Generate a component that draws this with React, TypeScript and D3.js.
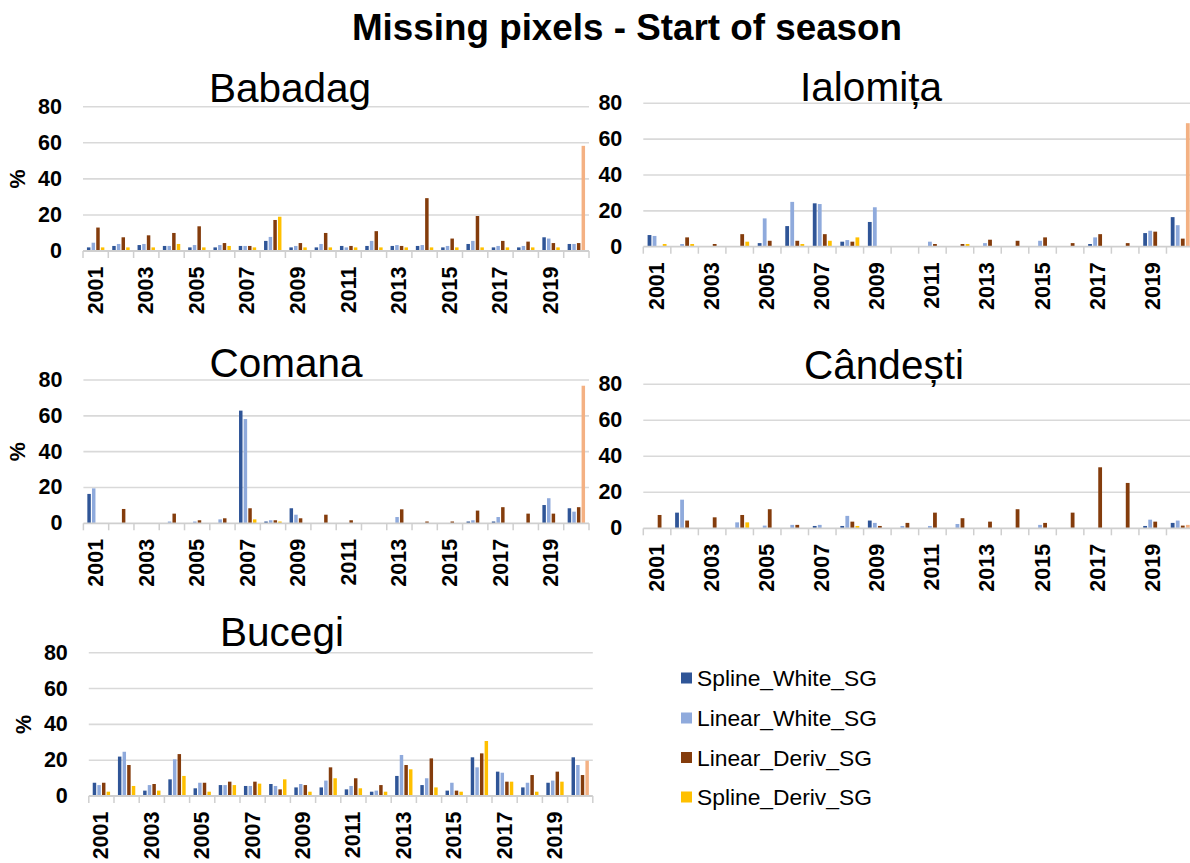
import React from 'react';
import * as d3 from 'd3';

const YEARS = ['2001','2002','2003','2004','2005','2006','2007','2008','2009','2010','2011','2012','2013','2014','2015','2016','2017','2018','2019','2020'];
const SERIES = ['Spline_White_SG', 'Linear_White_SG', 'Linear_Deriv_SG', 'Spline_Deriv_SG'];
const Y_TICKS = [0, 20, 40, 60, 80];
const HIGHLIGHT_YEAR = '2020';

const babadagSplineWhite = [2, 2.8, 3.3, 2.8, 2, 2, 2.8, 5.6, 2, 2, 2.8, 2.8, 2.8, 2.8, 2, 3.9, 2, 2, 7.6, 3.9];
const babadagLinearWhite = [4.6, 3.9, 3.9, 2.8, 3.3, 3.3, 2.8, 7.8, 2.8, 3.9, 2, 5.6, 3.3, 3.3, 2.8, 5.6, 2.8, 2.8, 6.9, 3.9];
const babadagLinearDeriv = [13, 7.6, 8.7, 10, 13.7, 4.4, 2.8, 17.2, 4.4, 10, 2.8, 11, 2.8, 29.3, 6.9, 19.4, 5.6, 5.2, 4.4, 4.4];
const babadagSplineDeriv = [2, 2, 2, 3.9, 2, 2.8, 2, 19, 2, 2, 2, 2, 2, 2, 2, 2, 2, 2, 2, 58.3];

const ialomitaSplineWhite = [6.5, 0, 0, 0, 2, 11.5, 24.2, 2.8, 13.8, 0, 0, 0, 0, 0, 0, 0, 1.5, 0, 7.6, 16.5];
const ialomitaLinearWhite = [6, 1.5, 0, 0, 15.8, 25, 23.8, 3.7, 22, 0, 2.8, 0, 2, 0, 3.3, 0, 5.2, 0, 8.9, 12];
const ialomitaLinearDeriv = [0, 5.2, 1.5, 7, 3.3, 3.3, 7, 2.8, 0, 0, 1.5, 1.5, 3.9, 3.3, 5.2, 2, 7, 2, 8.4, 4.5];
const ialomitaSplineDeriv = [1.5, 1.5, 0, 2.8, 0, 1.5, 3.3, 5.2, 0, 0, 0, 1.5, 0, 0, 0, 0, 0, 0, 0, 68.9];

const comanaSplineWhite = [16.4, 0, 0, 0, 0, 0, 62.9, 1, 8.4, 0, 0, 0, 0, 0, 0, 1, 1, 0, 10.2, 8.4];
const comanaLinearWhite = [19.5, 0, 0, 1, 1, 2.2, 58.2, 1.7, 4.8, 0, 0, 0, 3.5, 0, 0, 1.7, 3.5, 0, 14, 6.5];
const comanaLinearDeriv = [0, 8, 0, 5.4, 1.7, 2.8, 8.4, 1.7, 2.8, 4.8, 1.7, 0, 7.8, 1, 1, 7.1, 9, 5.4, 5.4, 9];
const comanaSplineDeriv = [0, 0, 0, 0, 0, 0, 2.2, 1, 0, 0, 0, 0, 0, 0, 0, 0, 0, 0, 0, 76.8];

const candestiSplineWhite = [0, 8.7, 0, 0, 0, 0, 1.3, 1.3, 4.3, 0, 0, 0, 0, 0, 0, 0, 0, 0, 1.3, 3];
const candestiLinearWhite = [0, 15.9, 0, 3.3, 1.5, 1.9, 1.9, 6.9, 3, 1.3, 1.3, 2.4, 0, 0, 1.9, 0, 0, 0, 4.8, 4.3];
const candestiLinearDeriv = [7.4, 4.3, 6.1, 7.4, 10.6, 1.9, 0, 3.7, 1.3, 3, 8.7, 5.6, 3.7, 10.6, 3, 8.7, 33.9, 25.2, 3.7, 1.5];
const candestiSplineDeriv = [0, 0, 0, 3.3, 0, 0, 0, 1.3, 0, 0, 0, 0, 0, 0, 0, 0, 0, 0, 0, 1.9];

const bucegiSplineWhite = [7.4, 22, 3, 9.3, 4.3, 6.1, 5.6, 6.7, 4.8, 4.8, 3.7, 2.4, 11.2, 6.1, 3, 21.6, 13.6, 4.8, 7.4, 21.6];
const bucegiLinearWhite = [6.1, 24.7, 6.1, 20.5, 7.4, 6.1, 5.6, 5.6, 6.7, 8.6, 5.6, 3, 22.9, 9.9, 7.4, 16, 13, 7.4, 8.6, 17.3];
const bucegiLinearDeriv = [7.4, 17.3, 6.7, 23.4, 7.4, 8, 8, 3.7, 6.1, 16, 9.9, 6.1, 17.3, 21, 3, 23.8, 8, 11.7, 13.6, 11.7];
const bucegiSplineDeriv = [2.4, 5.6, 3, 11.2, 2.4, 6.1, 6.9, 9.3, 2.4, 9.9, 4.3, 2.4, 14.9, 4.8, 2.4, 30.7, 8, 2.4, 8, 19.7];

const COLORS = ['#2F5597', '#8FAADC', '#843C0C', '#FFC000'];
const HIGHLIGHT_COLOR = '#F4B183';
const FONT = '"Liberation Sans", Arial, Helvetica, sans-serif';

const PANELS = [
  { name: 'Babadag', series: [babadagSplineWhite, babadagLinearWhite, babadagLinearDeriv, babadagSplineDeriv], left: 83, right: 589, top: 106.7, bottom: 251, titleX: 290, titleY: 102, pct: true },
  { name: 'Ialomița', series: [ialomitaSplineWhite, ialomitaLinearWhite, ialomitaLinearDeriv, ialomitaSplineDeriv], left: 643.3, right: 1194, top: 103.3, bottom: 246.7, titleX: 871, titleY: 101, pct: false },
  { name: 'Comana', series: [comanaSplineWhite, comanaLinearWhite, comanaLinearDeriv, comanaSplineDeriv], left: 83.4, right: 589, top: 380, bottom: 523.3, titleX: 286, titleY: 377, pct: true },
  { name: 'Cândești', series: [candestiSplineWhite, candestiLinearWhite, candestiLinearDeriv, candestiSplineDeriv], left: 643.3, right: 1194, top: 384.3, bottom: 528.3, titleX: 884, titleY: 379, pct: false },
  { name: 'Bucegi', series: [bucegiSplineWhite, bucegiLinearWhite, bucegiLinearDeriv, bucegiSplineDeriv], left: 88.8, right: 592.8, top: 652.7, bottom: 796, titleX: 282, titleY: 646, pct: true },
];

function Panel({ p }: { p: typeof PANELS[number] }) {
  const x0 = d3.scaleBand<string>().domain(YEARS).range([p.left, p.right]).paddingInner(0).paddingOuter(0);
  const x1 = d3.scaleBand<string>().domain(SERIES).range([0, x0.bandwidth()]).paddingInner(0.25).paddingOuter(0.85);
  const y = d3.scaleLinear().domain([0, 80]).range([p.bottom, p.top]);
  const bw = x0.bandwidth();
  return (
    <g>
      {Y_TICKS.filter(t => t > 0).map(t => (
        <line key={t} x1={p.left} x2={p.right} y1={y(t)} y2={y(t)} stroke="#d9d9d9" strokeWidth={1.6} />
      ))}
      {Y_TICKS.map(t => (
        <text key={'l' + t} x={p.left - 21} y={y(t)} textAnchor="end" dominantBaseline="central" fontFamily={FONT} fontWeight="bold" fontSize={21.5} fill="#000">{t}</text>
      ))}
      {YEARS.map((yr, i) => (
        <g key={yr} transform={`translate(${x0(yr)},0)`}>
          {SERIES.map((s, si) => {
            const v = p.series[si][i];
            if (!v) return null;
            const color = si === 3 && yr === HIGHLIGHT_YEAR ? HIGHLIGHT_COLOR : COLORS[si];
            return <rect key={s} x={x1(s)} width={x1.bandwidth()} y={y(v)} height={y(0) - y(v)} fill={color} />;
          })}
        </g>
      ))}
      <line x1={p.left} x2={p.right} y1={y(0)} y2={y(0)} stroke="#cfcfcf" strokeWidth={1.8} />
      {YEARS.map(yr => (
        <line key={'t' + yr} x1={x0(yr)} x2={x0(yr)} y1={y(0)} y2={y(0) + 7} stroke="#cfcfcf" strokeWidth={1.5} />
      ))}
      <line x1={p.right} x2={p.right} y1={y(0)} y2={y(0) + 7} stroke="#cfcfcf" strokeWidth={1.5} />
      {YEARS.filter((_, i) => i % 2 === 0).map(yr => {
        const cx = (x0(yr) as number) + bw / 2;
        const cy = y(0) + 15.5;
        return (
          <text key={'x' + yr} x={cx} y={cy} transform={`rotate(-90 ${cx} ${cy})`} textAnchor="end" dominantBaseline="central" fontFamily={FONT} fontWeight="bold" fontSize={21.5} fill="#000">{yr}</text>
        );
      })}
      <text x={p.titleX} y={p.titleY} textAnchor="middle" fontFamily={FONT} fontSize={40.5} fill="#000">{p.name}</text>
      {p.pct && (
        <text x={p.left - 65} y={(p.top + p.bottom) / 2} transform={`rotate(-90 ${p.left - 65} ${(p.top + p.bottom) / 2})`} textAnchor="middle" dominantBaseline="central" fontFamily={FONT} fontWeight="bold" fontSize={21.5} fill="#000">%</text>
      )}
    </g>
  );
}

export default function App() {
  const legendRows = [678, 718, 757.5, 797];
  return (
    <svg width={1190} height={863} style={{ position: 'absolute', left: 0, top: 0, background: '#fff' }}>
      <rect width={1190} height={863} fill="#fff" />
      <text x={627} y={40} textAnchor="middle" fontFamily={FONT} fontWeight="bold" fontSize={36.8} fill="#000">Missing pixels - Start of season</text>
      {PANELS.map(p => <Panel key={p.name} p={p} />)}
      {SERIES.map((s, i) => (
        <g key={s}>
          <rect x={681} y={legendRows[i] - 5.5} width={11} height={11} fill={COLORS[i]} />
          <text x={697} y={legendRows[i]} dominantBaseline="central" fontFamily={FONT} fontSize={22.8} fill="#000">{s}</text>
        </g>
      ))}
    </svg>
  );
}
